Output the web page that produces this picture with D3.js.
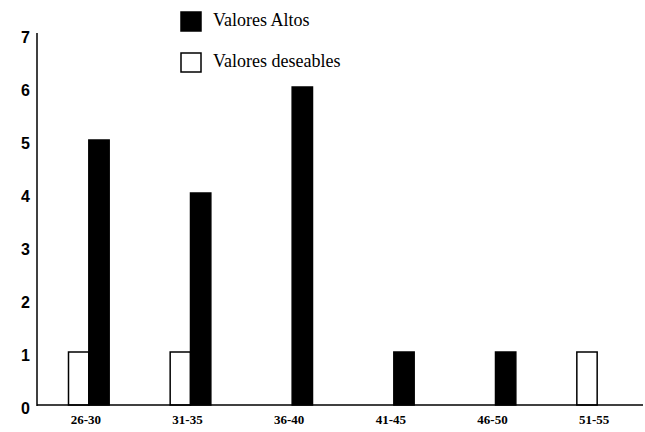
<!DOCTYPE html>
<html><head><meta charset="utf-8">
<script src="https://cdn.jsdelivr.net/npm/d3@7"></script>
<style>body{margin:0;background:#fff}</style>
</head><body>
<svg id="c" width="645" height="432"></svg>
<script>
const categories = ["26-30","31-35","36-40","41-45","46-50","51-55"];
const valoresAltos = [5,4,6,1,1,0];
const valoresDeseables = [1,1,0,0,0,1];
const yTicks = [0,1,2,3,4,5,6,7];
const seriesNames = ["Valores deseables","Valores Altos"];

const svg = d3.select("#c");
const x0 = 37, yBase = 405;
const x = d3.scaleBand().domain(categories).range([38, 648]).paddingInner(0.6).paddingOuter(0.3);
const xs = d3.scaleBand().domain(seriesNames).range([0, x.bandwidth()]);
const y = d3.scaleLinear().domain([0, 7]).range([yBase, 34]);
const fills = {"Valores deseables":"#fff","Valores Altos":"#000"};

const rows = categories.map((c,i)=>({cat:c, vals:[
  {s:"Valores deseables", v:valoresDeseables[i]},
  {s:"Valores Altos", v:valoresAltos[i]}]}));

const g = svg.append("g");
g.selectAll("g.grp").data(rows).join("g").attr("class","grp")
  .attr("transform", d=>`translate(${x(d.cat)},0)`)
  .selectAll("rect").data(d=>d.vals.filter(v=>v.v>0)).join("rect")
  .attr("x", d=>xs(d.s)).attr("width", xs.bandwidth())
  .attr("y", d=>y(d.v)).attr("height", d=>y(0)-y(d.v))
  .attr("fill", d=>fills[d.s]).attr("stroke","#000").attr("stroke-width",1.5);

// axes
const yAxis = d3.axisLeft(y).tickValues(yTicks).tickSize(0).tickPadding(8).tickFormat(d3.format("d"));
const ya = svg.append("g").attr("transform",`translate(${x0},0)`).call(yAxis);
ya.select(".domain").remove();
ya.selectAll("text").attr("font-family","Liberation Sans, Arial, sans-serif").attr("font-weight","bold").attr("font-size",16).attr("fill","#000").attr("dy","0.55em").attr("x",-7);

const xAxis = d3.axisBottom(x).tickSize(0).tickPadding(10);
const xa = svg.append("g").attr("transform",`translate(-3,${yBase})`).call(xAxis);
xa.select(".domain").remove();
xa.selectAll("text").attr("font-family","Liberation Serif, Times New Roman, serif").attr("font-weight","bold").attr("font-size",13).attr("fill","#000");

svg.append("line").attr("x1",x0).attr("x2",x0).attr("y1",33).attr("y2",yBase+1).attr("stroke","#000").attr("stroke-width",1.5);
svg.append("line").attr("x1",x0).attr("x2",643).attr("y1",yBase).attr("y2",yBase).attr("stroke","#000").attr("stroke-width",1.5);

// legend
const leg = svg.append("g");
const legItems = [{s:"Valores Altos", y:12},{s:"Valores deseables", y:53}];
legItems.forEach(it=>{
  leg.append("rect").attr("x",181).attr("y",it.y).attr("width",20).attr("height",19)
    .attr("fill",fills[it.s]).attr("stroke","#000").attr("stroke-width",1.5);
  leg.append("text").attr("x",213).attr("y",it.y+14).text(it.s)
    .attr("font-family","Liberation Serif, Times New Roman, serif").attr("font-size",18).attr("fill","#000");
});
</script>
</body></html>
